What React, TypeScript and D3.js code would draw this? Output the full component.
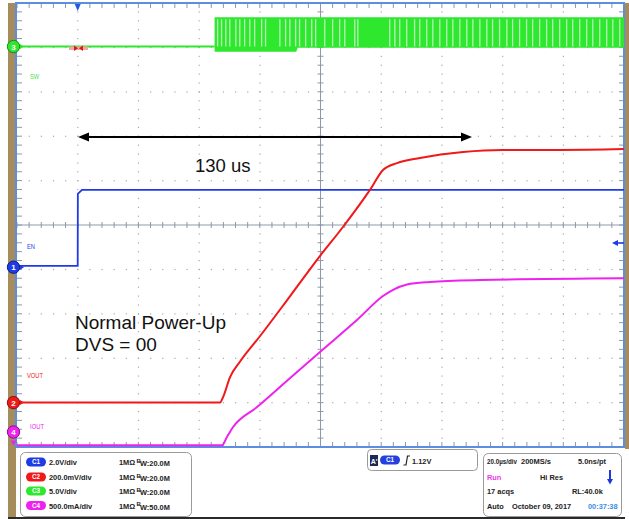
import React from 'react';
import * as d3 from 'd3';

// ---- screen setup: 20 µs/div horizontally (10 div), 10 div vertically ----
const timeDomain: [number, number] = [-20, 180];
const divDomain: [number, number] = [-5, 5];

// channel scales (units / div) and ground-marker positions (div)
const chNames = ['EN', 'VOUT', 'SW', 'IOUT'];
const chScales = [2, 0.2, 5, 0.5];
const chPositions = [-0.95, -4.0, 4.02, -5.0];

// EN (C1, volts)
const enTime = [-20, 0, 0.05, 1.4, 180];
const enVolts = [0.06, 0.06, 3.3, 3.48, 3.48];

// VOUT (C2, volts)
const voutTime = [-20, 46.9, 47.9, 50.2, 53.5, 60.1, 70.0, 79.8, 87.4, 96.3, 100.6, 105.2, 112.8, 127.0, 140.1, 158.9, 180];
const voutVolts = [0, 0, 0.025, 0.115, 0.185, 0.3, 0.48, 0.66, 0.791, 0.958, 1.048, 1.079, 1.102, 1.129, 1.138, 1.138, 1.142];

// IOUT (C4, amps)
const ioutTime = [-20, 47.5, 49.3, 51.2, 59.1, 70.0, 80.5, 92.0, 100.6, 103.9, 108.5, 116.1, 132.6, 180];
const ioutAmps = [0.02, 0.02, 0.12, 0.225, 0.45, 0.777, 1.09, 1.43, 1.70, 1.77, 1.83, 1.858, 1.88, 1.90];

// SW (C3, volts): idle line, then switching envelope
const swIdleTime = [-20, 45.1];
const swIdleVolts = [0, 0];
const swBandTime = [45.1, 72, 72.5, 180];
const swBandTop = [3.3, 3.3, 3.3, 3.3];
const swBandBottom = [-0.6, -0.6, -0.15, -0.15];
const swGapTimes = [46.1, 47.4, 48.8, 50.1, 52.1, 53.4, 55.0, 56.7, 58.3, 60.6, 61.9, 66.6, 68.5, 69.9, 71.8, 73.1, 75.1, 77.1, 78.4, 81.4, 84.0, 86.3, 88.0, 91.3, 92.3, 102.8, 104.5, 106.1, 108.4, 111.0, 112.7, 115.0, 117.0, 119.3, 121.6, 123.6, 125.9, 128.2, 130.2, 132.5, 134.8, 136.7, 139.0, 141.4, 143.3, 145.6, 147.9, 149.9, 152.2, 154.5, 156.5, 158.8, 161.1, 163.1, 165.4, 167.7, 169.7, 172.0, 174.3, 176.3, 178.6];

// status panel texts
const chSettings = ['2.0V/div', '200.0mV/div', '5.0V/div', '500.0mA/div'];
const chBandwidths = ['20.0M', '20.0M', '20.0M', '50.0M'];
const chColors = ['#1e3ce6', '#f01818', '#2ee82e', '#ee22ee'];
const chDark = ['#0c1c8a', '#8a1010', '#138a13', '#8a108a'];

const FONT = '"Liberation Sans", Arial, sans-serif';

export default function App() {
  const x = d3.scaleLinear().domain(timeDomain).range([17, 624]);
  const y = d3.scaleLinear().domain(divDomain).range([447, 3]);
  const yv = (ch: number, v: number) => y(chPositions[ch] + v / chScales[ch]);

  const line = (ch: number, ts: number[], vs: number[], smooth = false) =>
    d3.line<number>()
      .x((_, i) => x(ts[i]))
      .y((_, i) => yv(ch, vs[i]))
      .curve(smooth ? d3.curveMonotoneX : d3.curveLinear)(ts) || '';

  const swArea = d3.area<number>()
    .x((_, i) => x(swBandTime[i]))
    .y0((_, i) => yv(2, swBandBottom[i]))
    .y1((_, i) => yv(2, swBandTop[i]))(swBandTime) || '';

  const minorX = d3.range(0, 51).map((i) => timeDomain[0] + i * 4);
  const minorY = d3.range(0, 51).map((i) => divDomain[0] + i * 0.2);
  const majorX = d3.range(1, 10).filter((i) => i !== 5).map((i) => timeDomain[0] + i * 20);
  const majorY = d3.range(1, 10).filter((i) => i !== 5).map((i) => divDomain[0] + i);

  const cx = x(80);
  const cy = y(0);
  const gridCol = '#8e98aa';

  const dots: JSX.Element[] = [];
  majorX.forEach((t) => minorY.forEach((d, j) => dots.push(<rect key={`vx${t}-${j}`} x={x(t) - 0.5} y={y(d) - 0.5} width={1.2} height={1.2} fill="#aaaaaa" />)));
  majorY.forEach((d) => minorX.forEach((t, j) => dots.push(<rect key={`hy${d}-${j}`} x={x(t) - 0.5} y={y(d) - 0.5} width={1.2} height={1.2} fill="#aaaaaa" />)));

  const ticks: JSX.Element[] = [];
  minorX.forEach((t, i) => {
    const xx = x(t);
    ticks.push(<line key={`tt${i}`} x1={xx} x2={xx} y1={3} y2={8} stroke={gridCol} strokeWidth={1} />);
    ticks.push(<line key={`tb${i}`} x1={xx} x2={xx} y1={442} y2={447} stroke={gridCol} strokeWidth={1} />);
    ticks.push(<line key={`tc${i}`} x1={xx} x2={xx} y1={cy - 3} y2={cy + 3} stroke={gridCol} strokeWidth={1} />);
  });
  minorY.forEach((d, i) => {
    const yy = y(d);
    ticks.push(<line key={`tl${i}`} x1={17} x2={22} y1={yy} y2={yy} stroke={gridCol} strokeWidth={1} />);
    ticks.push(<line key={`tr${i}`} x1={619} x2={624} y1={yy} y2={yy} stroke={gridCol} strokeWidth={1} />);
    ticks.push(<line key={`tm${i}`} x1={cx - 3} x2={cx + 3} y1={yy} y2={yy} stroke={gridCol} strokeWidth={1} />);
  });

  // channel ground markers (C1, C2, C3 at their positions, C4 clamped at screen bottom)
  const markerY = [yv(0, 0), yv(1, 0), yv(2, 0), 432];
  const markerLabel = ['1', '2', '3', '4'];

  const rowY = [462, 477, 491, 505.5];
  const panelText = { fontFamily: FONT, fontSize: 7.4, fontWeight: 700 as const, fill: '#222' };

  return (
    <svg width={629} height={519} style={{ position: 'absolute', left: 0, top: 0, background: '#fff' }}>
      <defs>
        <clipPath id="plotClip">
          <rect x={17} y={3} width={607} height={444} />
        </clipPath>
      </defs>
      <rect x={0} y={0} width={629} height={519} fill="#fff" />
      {/* side strips */}
      <rect x={8} y={3} width={8} height={514} fill="#a58c5a" />
      <rect x={625} y={3} width={4} height={446} fill="#a58c5a" />
      <rect x={8} y={517} width={617} height={2} fill="#2a2a2a" />

      {/* grid */}
      <g>{dots}</g>
      <line x1={cx} x2={cx} y1={3} y2={447} stroke={gridCol} strokeWidth={1} />
      <line x1={17} x2={624} y1={cy} y2={cy} stroke={gridCol} strokeWidth={1} />
      <g>{ticks}</g>
      <rect x={16} y={3} width={608} height={444} fill="none" stroke="#5b8ee0" strokeWidth={2} />

      {/* traces */}
      <g clipPath="url(#plotClip)">
        <path d={line(2, swIdleTime, swIdleVolts)} fill="none" stroke={chColors[2]} strokeWidth={2} />
        <path d={swArea} fill={chColors[2]} />
        {swGapTimes.map((t, i) => (
          <line key={`g${i}`} x1={x(t)} x2={x(t)} y1={yv(2, swBandTop[0]) + 2} y2={yv(2, -0.1) - 1} stroke="#b6f5b6" strokeWidth={1.3} />
        ))}
        <path d={line(0, enTime, enVolts)} fill="none" stroke={chColors[0]} strokeWidth={1.8} />
        <path d={line(1, voutTime, voutVolts, true)} fill="none" stroke={chColors[1]} strokeWidth={2} />
        <path d={line(3, ioutTime, ioutAmps, true)} fill="none" stroke={chColors[3]} strokeWidth={2} />
      </g>

      {/* trigger markers */}
      <polygon points={`${x(0) - 3},4 ${x(0) + 3},4 ${x(0)},11`} fill="#1f5ae0" />
      <rect x={69} y={46.5} width={19} height={3.5} fill="#f4a6a6" />
      <polygon points="74,45.5 78,48.2 74,51" fill="#e01818" />
      <polygon points="83,45.5 79,48.2 83,51" fill="#e01818" />
      <line x1={618} x2={624} y1={243} y2={243} stroke="#1e3ce6" strokeWidth={1.5} />
      <polygon points="612,243 618,240 618,246" fill="#1e3ce6" />

      {/* channel labels on screen */}
      <text x={30} y={79} fontFamily={FONT} fontSize={8} fill="#46e046" textLength={9} lengthAdjust="spacingAndGlyphs">SW</text>
      <text x={27} y={249} fontFamily={FONT} fontSize={8} fill="#2846e6" textLength={8} lengthAdjust="spacingAndGlyphs">EN</text>
      <text x={27} y={378} fontFamily={FONT} fontSize={8} fill="#f02020" textLength={16} lengthAdjust="spacingAndGlyphs">VOUT</text>
      <text x={30} y={429} fontFamily={FONT} fontSize={8} fill="#ee22ee" textLength={14} lengthAdjust="spacingAndGlyphs">IOUT</text>

      {/* channel ground markers */}
      {markerY.map((my, i) => (
        <g key={`m${i}`}>
          <circle cx={13.5} cy={my} r={6.2} fill={chColors[i]} stroke={chDark[i]} strokeWidth={1} />
          <text x={13.5} y={my + 3} textAnchor="middle" fontFamily={FONT} fontSize={8} fontWeight={700} fill="#fff">{markerLabel[i]}</text>
          {i < 3 ? <polygon points={`${20},${my - 2.5} ${24},${my} ${20},${my + 2.5}`} fill={chColors[i]} /> : <polygon points={`${10.5},${my + 8.5} ${16.5},${my + 8.5} ${13.5},${my + 13.5}`} fill={chColors[i]} />}
        </g>
      ))}

      {/* annotations */}
      <line x1={86} x2={464} y1={137} y2={137} stroke="#000" strokeWidth={1.8} />
      <polygon points="78,137 89,132.5 89,141.5" fill="#000" />
      <polygon points="472,137 461,132.5 461,141.5" fill="#000" />
      <text x={195} y={172} fontFamily={FONT} fontSize={18.5} fill="#111">130 us</text>
      <text x={75} y={329} fontFamily={FONT} fontSize={19} fill="#111">Normal Power-Up</text>
      <text x={75} y={351} fontFamily={FONT} fontSize={19} fill="#111">DVS = 00</text>

      {/* status panel: channel box */}
      <rect x={20.5} y={452.5} width={171} height={64} rx={5} fill="#fff" stroke="#9a9a9a" strokeWidth={1} />
      {chNames.map((n, i) => (
        <g key={`c${i}`}>
          <rect x={26} y={rowY[i] - 4.5} width={20} height={9} rx={4.5} fill={chColors[i]} />
          <text x={36} y={rowY[i] + 2.3} textAnchor="middle" fontFamily={FONT} fontSize={6.3} fontWeight={700} fill="#fff">{`C${i + 1}`}</text>
          <text x={49} y={rowY[i] + 3} {...panelText}>{chSettings[i]}</text>
          <text x={119} y={rowY[i] + 3} {...panelText}>1MΩ</text>
          <text x={136.5} y={rowY[i] + 0.5} {...panelText} fontSize={6}>B</text>
          <text x={140} y={rowY[i] + 4} {...panelText}>{`W:${chBandwidths[i]}`}</text>
        </g>
      ))}

      {/* trigger box */}
      <rect x={367.5} y={449.5} width={110} height={21} rx={4} fill="#fff" stroke="#9a9a9a" strokeWidth={1} />
      <rect x={370} y={455} width={8} height={11} fill="#1c2a56" />
      <text x={374} y={463.5} textAnchor="middle" fontFamily={FONT} fontSize={7} fontWeight={700} fill="#fff">A'</text>
      <rect x={380} y={455.5} width={20} height={9} rx={4.5} fill="#2440e0" />
      <text x={390} y={462.3} textAnchor="middle" fontFamily={FONT} fontSize={6.3} fontWeight={700} fill="#fff">C1</text>
      <path d="M403.5,465 L406,465 L407.5,456 L410,456" fill="none" stroke="#222" strokeWidth={1.2} />
      <text x={412} y={463.5} {...panelText}>1.12V</text>

      {/* acquisition box */}
      <rect x={483.5} y={453.5} width={138} height={63} rx={5} fill="#fff" stroke="#9a9a9a" strokeWidth={1} />
      <text x={487} y={464} {...panelText} textLength={30} lengthAdjust="spacingAndGlyphs">20.0µs/div</text>
      <text x={521} y={464} {...panelText} textLength={30} lengthAdjust="spacingAndGlyphs">200MS/s</text>
      <text x={578} y={464} {...panelText}>5.0ns/pt</text>
      <text x={487} y={480} {...panelText} fill="#e83ae8">Run</text>
      <text x={540} y={480} {...panelText}>Hi Res</text>
      <line x1={610} x2={610} y1={470} y2={480} stroke="#1a3adf" strokeWidth={2} />
      <polygon points="607,479 613,479 610,484.5" fill="#1a3adf" />
      <text x={487} y={494} {...panelText}>17 acqs</text>
      <text x={572} y={494} {...panelText}>RL:40.0k</text>
      <text x={487} y={509} {...panelText}>Auto</text>
      <text x={512} y={509} {...panelText}>October 09, 2017</text>
      <text x={588} y={509} {...panelText} fill="#3a8ee8">00:37:38</text>
    </svg>
  );
}
